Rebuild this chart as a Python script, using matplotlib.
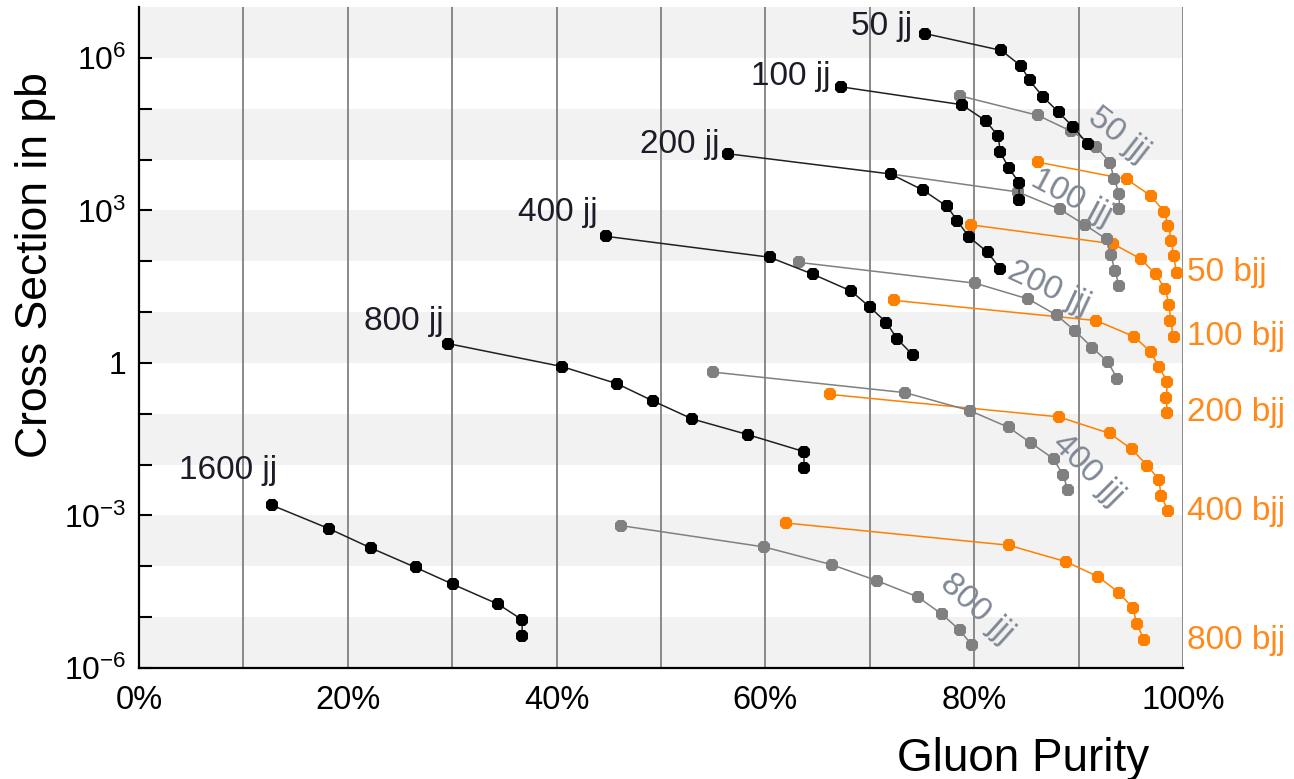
import matplotlib.pyplot as plt
import numpy as np
from matplotlib.ticker import FixedLocator, FixedFormatter, NullFormatter

plt.rcParams['font.family'] = ['Liberation Sans', 'DejaVu Sans']
plt.rcParams['mathtext.fontset'] = 'custom'
plt.rcParams['mathtext.rm'] = 'Liberation Sans'
plt.rcParams['mathtext.default'] = 'rm'

## Data: gluon purity (%) vs cross section (pb), one curve per pT cut

# dijet (jj)
jj_names = ['50 jj', '100 jj', '200 jj', '400 jj', '800 jj', '1600 jj']
jj_purity = [
    [75.3, 82.6, 84.5, 85.3, 86.6, 88.1, 89.5, 90.9],
    [67.2, 78.8, 81.1, 82.3, 82.5, 83.3, 84.3, 84.3],
    [56.4, 72.0, 75.1, 77.4, 78.4, 79.5, 81.3, 82.5],
    [44.7, 60.4, 64.6, 68.2, 70.0, 71.6, 72.6, 74.1],
    [29.6, 40.5, 45.8, 49.2, 53.0, 58.3, 63.7, 63.7],
    [12.7, 18.2, 22.2, 26.5, 30.1, 34.4, 36.7, 36.7],
]
jj_xsec = [
    [3.0e6, 1.4e6, 6.9e5, 3.6e5, 1.7e5, 8.5e4, 4.3e4, 2.0e4],
    [2.7e5, 1.2e5, 5.8e4, 2.9e4, 1.4e4, 6.9e3, 3.5e3, 1.6e3],
    [1.3e4, 5.2e3, 2.5e3, 1.2e3, 6.2e2, 3.0e2, 1.5e2, 71],
    [310, 120, 55, 26, 12.6, 6.2, 3.0, 1.45],
    [2.4, 0.85, 0.39, 0.18, 0.079, 0.039, 0.018, 0.0085],
    [1.6e-3, 5.5e-4, 2.3e-4, 9.5e-5, 4.4e-5, 1.8e-5, 8.9e-6, 4.3e-6],
]

# three jets (jjj)
jjj_names = ['50 jjj', '100 jjj', '200 jjj', '400 jjj', '800 jjj']
jjj_purity = [
    [78.6, 86.1, 89.3, 91.7, 93.0, 93.4, 93.9, 93.9],
    [72.0, 84.2, 88.2, 90.6, 92.7, 93.1, 93.5, 93.9],
    [63.2, 80.1, 85.2, 87.9, 89.7, 91.3, 92.8, 93.7],
    [55.0, 73.4, 79.6, 83.3, 85.4, 87.6, 88.5, 89.0],
    [46.2, 59.9, 66.4, 70.7, 74.6, 76.9, 78.6, 79.8],
]
jjj_xsec = [
    [1.8e5, 7.4e4, 3.6e4, 1.8e4, 8.7e3, 4.2e3, 2.1e3, 1.05e3],
    [5.2e3, 2.3e3, 1.05e3, 5.2e2, 2.7e2, 1.3e2, 63, 32],
    [95, 37, 18, 8.7, 4.2, 2.0, 1.05, 0.49],
    [0.66, 0.26, 0.115, 0.054, 0.027, 0.013, 6.3e-3, 3.1e-3],
    [6.3e-4, 2.4e-4, 1.07e-4, 5.2e-5, 2.5e-5, 1.15e-5, 5.6e-6, 2.8e-6],
]

# b-tagged (bjj)
bjj_names = ['50 bjj', '100 bjj', '200 bjj', '400 bjj', '800 bjj']
bjj_purity = [
    [86.1, 94.6, 96.9, 98.2, 98.6, 98.9, 99.1, 99.4],
    [79.7, 93.3, 96.0, 97.4, 98.3, 98.7, 98.8, 99.1],
    [72.3, 91.7, 95.3, 96.9, 97.7, 98.5, 98.4, 98.5],
    [66.2, 88.1, 93.0, 95.1, 96.6, 97.7, 97.9, 98.6],
    [62.0, 83.3, 88.8, 91.9, 93.9, 95.2, 95.6, 96.3],
]
bjj_xsec = [
    [8.9e3, 4.1e3, 1.95e3, 9.5e2, 4.9e2, 2.5e2, 1.26e2, 59],
    [5.2e2, 2.2e2, 1.1e2, 55, 28, 13.5, 6.6, 3.3],
    [17, 6.8, 3.3, 1.66, 0.83, 0.43, 0.20, 0.105],
    [0.24, 0.087, 0.041, 0.020, 9.5e-3, 5.0e-3, 2.45e-3, 1.2e-3],
    [7.1e-4, 2.6e-4, 1.23e-4, 6.2e-5, 3.0e-5, 1.5e-5, 7.2e-6, 3.5e-6],
]

## Label placement
jj_label_offsets = [(-9, 5), (-7, 7.5), (-6, 6.5), (-6, 17), (-3, 16), (4, 25)]  # points
jjj_label_pos = [(93.8, 3.1e4), (89.3, 1.8e3), (87.2, 29), (90.9, 8e-3), (80.2, 1.5e-5)]
jjj_label_rot = [-38, -28, -25, -45, -42]

black = '#000000'
grey = '#808080'
orange = '#ff8000'
text_dark = '#1c1c28'
text_grey = '#7f8894'
text_orange = '#ff8a1c'
fs = 24

fig = plt.figure(figsize=(12.94, 7.79), dpi=100)
ax = fig.add_axes([0.1074, 0.1425, 0.8068, 0.8485])

ax.set_xlim(0, 100)
ax.set_yscale('log')
ax.set_ylim(1e-6, 1e7)

# alternating decade bands
for k in range(-6, 7, 2):
    ax.axhspan(10.0 ** k, 10.0 ** (k + 1), color='#f2f2f2', lw=0, zorder=0)

# vertical grid
for gx in range(10, 101, 10):
    ax.axvline(gx, color='#808080', lw=1.3, zorder=1)

mk = dict(marker='8', markersize=9.5, markeredgewidth=0)

for xs, ys in zip(bjj_purity, bjj_xsec):
    ax.plot(xs, ys, color=orange, lw=1.1, markerfacecolor=orange, zorder=3, **mk)
for xs, ys in zip(jjj_purity, jjj_xsec):
    ax.plot(xs, ys, color=grey, lw=1.1, markerfacecolor=grey, zorder=4, **mk)
for xs, ys in zip(jj_purity, jj_xsec):
    ax.plot(xs, ys, color='#202020', lw=1.1, markerfacecolor=black, zorder=5, **mk)

# curve labels
for name, xs, ys, off in zip(jj_names, jj_purity, jj_xsec, jj_label_offsets):
    ax.annotate(name, xy=(xs[0], ys[0]), xytext=off, textcoords='offset points',
                ha='right', va='center', fontsize=fs, color=text_dark, zorder=6)

for name, pos, rot in zip(jjj_names, jjj_label_pos, jjj_label_rot):
    ax.text(pos[0], pos[1], name, rotation=rot, rotation_mode='anchor',
            ha='center', va='center', fontsize=fs, color=text_grey, zorder=6)

for name, ys in zip(bjj_names, bjj_xsec):
    ax.annotate(name, xy=(1.0, ys[-1]), xycoords=('axes fraction', 'data'),
                xytext=(3, 0), textcoords='offset points',
                ha='left', va='center', fontsize=fs, color=text_orange,
                annotation_clip=False)

## Axes styling
ax.yaxis.set_major_locator(FixedLocator([1e-6, 1e-3, 1, 1e3, 1e6]))
ax.yaxis.set_major_formatter(FixedFormatter(['10$^{-6}$', '10$^{-3}$', '1',
                                             '10$^{3}$', '10$^{6}$']))
ax.yaxis.set_minor_locator(FixedLocator([10.0 ** k for k in range(-5, 7)]))
ax.yaxis.set_minor_formatter(NullFormatter())
ax.tick_params(axis='y', which='both', direction='in', length=9, width=1.5,
               labelsize=23, pad=9)

ax.set_xticks([0, 20, 40, 60, 80, 100])
ax.set_xticklabels(['0%', '20%', '40%', '60%', '80%', '100%'])
ax.tick_params(axis='x', length=0, labelsize=23.5, pad=12)

for s in ['top', 'right']:
    ax.spines[s].set_visible(False)
for s in ['left', 'bottom']:
    ax.spines[s].set_linewidth(1.6)
    ax.spines[s].set_zorder(7)

ax.set_ylabel('Cross Section in pb', fontsize=32)
ax.yaxis.set_label_coords(-0.079, 0.61)
ax.set_xlabel('Gluon Purity', fontsize=33)
ax.xaxis.set_label_coords(0.847, -0.105)

fig.savefig('out.png', dpi=100)
